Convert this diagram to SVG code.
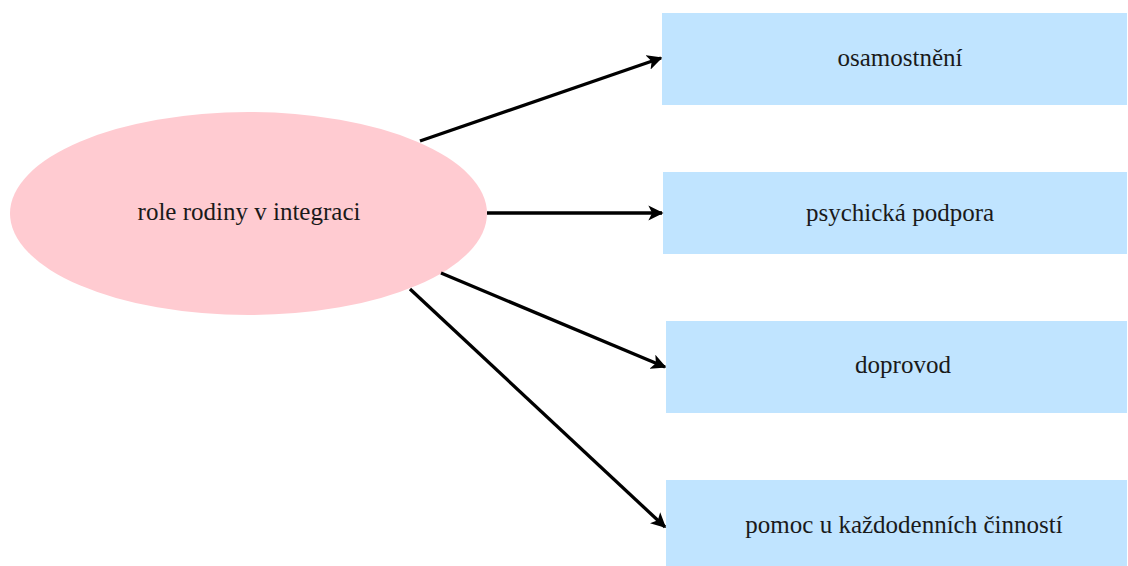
<svg xmlns="http://www.w3.org/2000/svg" width="1128" height="566" viewBox="0 0 1128 566">
<style>
.box{fill:#C0E4FF;}
.ell{fill:#FFCBD1;}
.t{font-family:"Liberation Serif","Times New Roman",serif;font-size:25px;fill:#1a1a1a;text-anchor:middle;dominant-baseline:central;}
.c{stroke:#000;stroke-width:3.3;fill:none;marker-end:url(#ah);}
</style>
<defs>
<marker id="ah" viewBox="0 0 10 10" refX="9" refY="5" markerWidth="4.6" markerHeight="4.6" orient="auto" markerUnits="strokeWidth">
<path d="M0,0 L10,5 L0,10 L2.5,5 Z" fill="#000"/>
</marker>
</defs>
<rect width="1128" height="566" fill="#fff"/>
<g id="n0"><ellipse class="ell" cx="248.5" cy="213.5" rx="238.5" ry="101.5"/><text class="t" x="249" y="211">role rodiny v integraci</text></g>
<g id="n1"><rect class="box" x="662" y="13" width="465" height="92"/><text class="t" x="900" y="57">osamostnění</text></g>
<g id="n2"><rect class="box" x="663" y="172" width="464" height="82"/><text class="t" x="900" y="212">psychická podpora</text></g>
<g id="n3"><rect class="box" x="666" y="321" width="461" height="92"/><text class="t" x="903" y="364">doprovod</text></g>
<g id="n4"><rect class="box" x="666" y="480" width="461" height="86"/><text class="t" x="904" y="524">pomoc u každodenních činností</text></g>
<g id="connectors">
<line class="c" x1="420" y1="141" x2="661" y2="58"/>
<line class="c" x1="487" y1="213" x2="662" y2="213"/>
<line class="c" x1="441" y1="273" x2="665" y2="367"/>
<line class="c" x1="410" y1="289" x2="665" y2="527"/>
</g>
</svg>
